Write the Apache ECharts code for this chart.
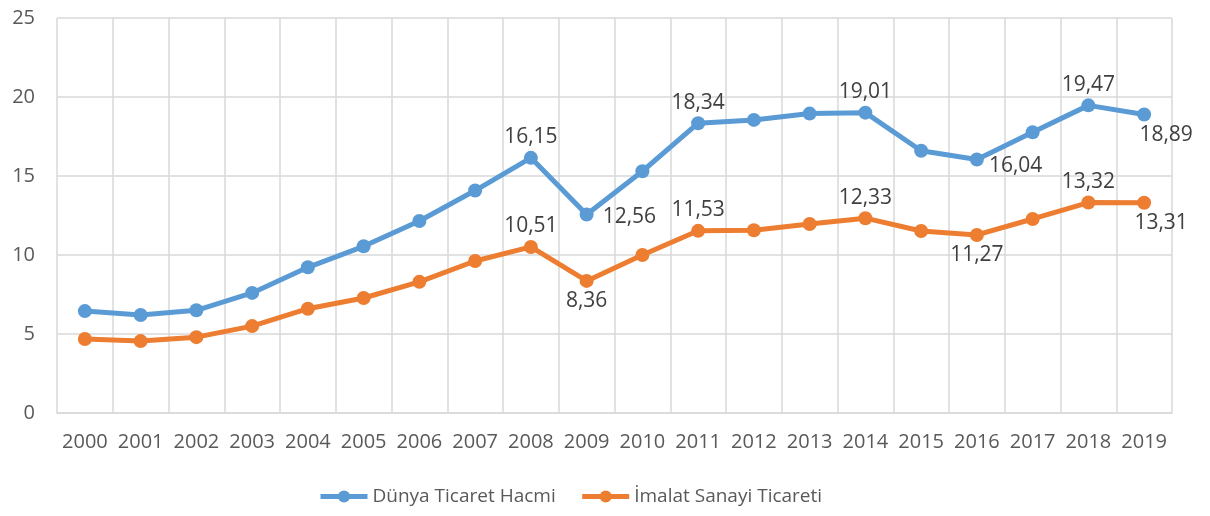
<!DOCTYPE html>
<html>
<head>
<meta charset="utf-8">
<style>
  html, body { margin: 0; padding: 0; background: #fff; }
  #chart { width: 1210px; height: 516px; }
</style>
<script src="https://cdn.jsdelivr.net/npm/echarts@6/dist/echarts.min.js"></script>
</head>
<body>
<div id="chart"></div>
<script>
const years = ["2000", "2001", "2002", "2003", "2004", "2005", "2006", "2007", "2008", "2009",
  "2010", "2011", "2012", "2013", "2014", "2015", "2016", "2017", "2018", "2019"];
const dunyaTicaret = [6.45, 6.2, 6.5, 7.6, 9.22, 10.55, 12.15, 14.08, 16.15, 12.56,
  15.3, 18.34, 18.55, 18.95, 19.01, 16.6, 16.04, 17.77, 19.47, 18.89];
const imalatTicaret = [4.68, 4.55, 4.8, 5.5, 6.6, 7.28, 8.3, 9.62, 10.51, 8.36,
  10.0, 11.53, 11.57, 11.96, 12.33, 11.52, 11.27, 12.28, 13.32, 13.31];
const seriesNames = ["Dünya Ticaret Hacmi", "İmalat Sanayi Ticareti"];

// which points carry a value label, and where it sits
const blueLabels = {
  8: { position: "top" },
  9: { position: "right", offset: [6, 2] },
  11: { position: "top" },
  14: { position: "top" },
  16: { position: "right", offset: [2, 6] },
  18: { position: "top" },
  19: { position: "bottom", offset: [22, 0] },
};
const orangeLabels = {
  8: { position: "top" },
  9: { position: "bottom" },
  11: { position: "top" },
  14: { position: "top" },
  16: { position: "bottom" },
  18: { position: "top" },
  19: { position: "bottom", offset: [17, 0] },
};

function withLabels(values, labels) {
  return values.map((v, i) => {
    const cfg = labels[i];
    if (!cfg) return v;
    return {
      value: v,
      label: Object.assign({
        show: true,
        distance: 3,
        color: "#404040",
        fontSize: 21,
        fontFamily: "Open Sans",
        formatter: (p) => p.value.toFixed(2).replace(".", ","),
      }, cfg),
    };
  });
}

const chart = echarts.init(document.getElementById("chart"));
const gridColor = "#d9d9d9";
const option = {
  animation: false,
  color: ["#5b9bd5", "#ed7d31"],
  grid: {
    left: 57,
    right: 38,
    top: 18,
    bottom: 103,
  },
  legend: {
    data: seriesNames,
    bottom: 5,
    left: 313,
    itemWidth: 47,
    itemHeight: 15,
    itemGap: 24,
    lineStyle: { width: 5 },
    textStyle: {
      color: "#595959",
      fontSize: 19,
      fontFamily: "Open Sans",
    },
  },
  xAxis: {
    type: "category",
    data: years,
    boundaryGap: true,
    axisLine: { lineStyle: { color: gridColor, width: 1.5 } },
    axisTick: { show: false },
    axisLabel: {
      color: "#595959",
      fontSize: 20,
      fontFamily: "Open Sans",
      margin: 19,
      interval: 0,
    },
    splitLine: {
      show: true,
      interval: 0,
      lineStyle: { color: gridColor, width: 1.5 },
    },
  },
  yAxis: {
    type: "value",
    min: 0,
    max: 25,
    interval: 5,
    axisLine: { show: false },
    axisTick: { show: false },
    axisLabel: {
      color: "#595959",
      fontSize: 20,
      fontFamily: "Open Sans",
      margin: 22,
    },
    splitLine: {
      lineStyle: { color: gridColor, width: 1.5 },
    },
  },
  series: [
    {
      name: seriesNames[0],
      type: "line",
      symbol: "circle",
      symbolSize: 14,
      lineStyle: { width: 5 },
      data: withLabels(dunyaTicaret, blueLabels),
    },
    {
      name: seriesNames[1],
      type: "line",
      symbol: "circle",
      symbolSize: 14,
      lineStyle: { width: 5 },
      data: withLabels(imalatTicaret, orangeLabels),
    },
  ],
};
chart.setOption(option);
</script>
</body>
</html>
